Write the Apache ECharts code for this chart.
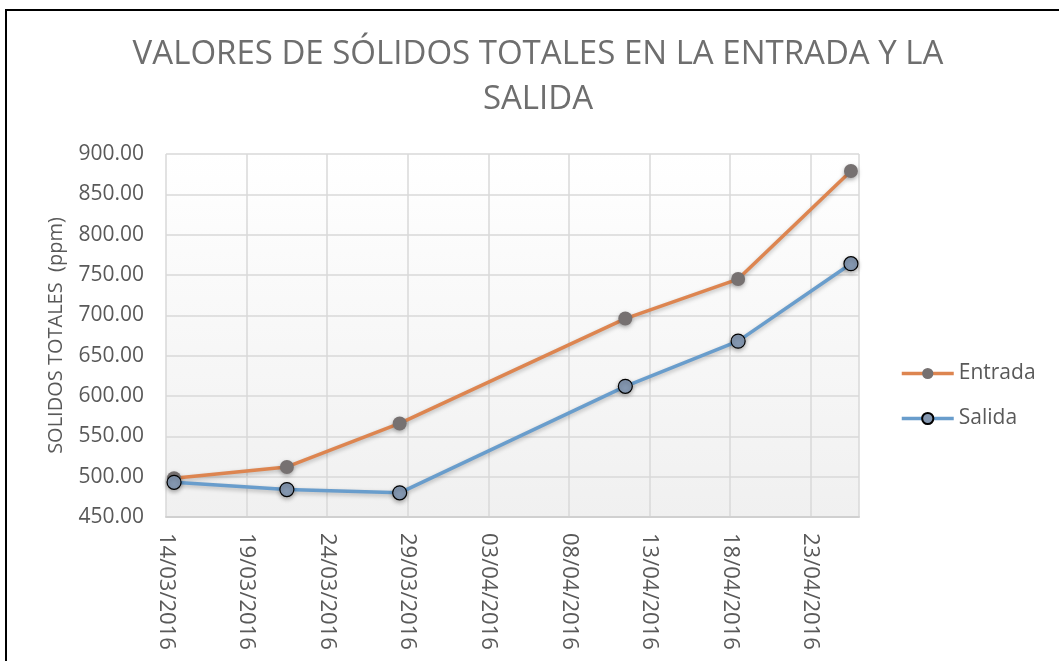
<!DOCTYPE html>
<html>
<head>
<meta charset="utf-8">
<script src="https://cdn.jsdelivr.net/npm/echarts@6/dist/echarts.min.js"></script>
<style>
  html, body { margin: 0; padding: 0; background: #fff; }
  #frame { position: absolute; left: 5px; top: 9px; right: -10px; bottom: -10px; border-left: 2px solid #000; border-top: 2px solid #000; }
  #chart { position: absolute; left: 0; top: 0; width: 1059px; height: 661px; }
</style>
</head>
<body>
<div id="frame"></div>
<div id="chart"></div>
<script>
  const startDate = '14/03/2016'
  const dates = ['14/03/2016', '21/03/2016', '28/03/2016', '11/04/2016', '18/04/2016', '25/04/2016']
  const entrada = [498, 512, 566, 696, 745, 879]
  const salida = [493, 484, 480, 612, 668, 764]
  const yTicks = [450, 500, 550, 600, 650, 700, 750, 800, 850, 900]

  const DAY = 86400000
  const parse = (s) => {
    const p = s.split('/')
    return Date.UTC(+p[2], +p[1] - 1, +p[0])
  }
  const t0 = parse(startDate)
  // Excel draws each point in the middle of its day
  const dayPos = (s) => (parse(s) - t0) / DAY + 0.5
  const fmtDay = (v) => {
    const d = new Date(t0 + v * DAY)
    const dd = String(d.getUTCDate()).padStart(2, '0')
    const mm = String(d.getUTCMonth() + 1).padStart(2, '0')
    return dd + '/' + mm + '/' + d.getUTCFullYear()
  }

  const chart = echarts.init(document.getElementById('chart'))
  const font = 'Open Sans'
  const grey = '#595959'

  chart.setOption({
    animation: false,
    title: {
      text: 'VALORES DE SÓLIDOS TOTALES EN LA ENTRADA Y LA\nSALIDA',
      left: 533,
      textAlign: 'center',
      top: 27,
      textStyle: {
        fontFamily: font,
        fontWeight: 'normal',
        fontSize: 33,
        lineHeight: 45,
        color: '#6e6e6e'
      }
    },
    legend: {
      orient: 'vertical',
      left: 895,
      top: 358,
      itemWidth: 52,
      itemHeight: 14,
      itemGap: 24,
      lineStyle: { width: 3.5 },
      textStyle: { fontFamily: font, fontSize: 21, color: grey }
    },
    grid: {
      left: 166,
      right: 200,
      top: 154,
      bottom: 144,
      show: true,
      borderWidth: 0,
      backgroundColor: new echarts.graphic.LinearGradient(0, 0, 0, 1, [
        { offset: 0, color: '#ffffff' },
        { offset: 1, color: '#f0f0f0' }
      ])
    },
    xAxis: {
      type: 'value',
      min: 0,
      max: 43,
      interval: 5,
      axisLine: { show: true, lineStyle: { color: '#d0d0d0', width: 2 } },
      axisTick: { show: false },
      splitLine: { show: true, lineStyle: { color: '#d9d9d9', width: 1.5 } },
      axisLabel: {
        rotate: -90,
        margin: 16,
        showMaxLabel: false,
        fontFamily: font,
        fontSize: 22,
        color: grey,
        formatter: (v) => (v % 5 === 0 ? fmtDay(v) : '')
      }
    },
    yAxis: {
      type: 'value',
      min: yTicks[0],
      max: yTicks[yTicks.length - 1],
      interval: yTicks[1] - yTicks[0],
      name: 'SOLIDOS TOTALES  (ppm)',
      nameLocation: 'middle',
      nameGap: 100,
      nameTextStyle: { fontFamily: font, fontSize: 20, color: grey },
      axisLine: { show: false },
      axisTick: { show: false },
      splitLine: { show: true, lineStyle: { color: '#d9d9d9', width: 1.5 } },
      axisLabel: {
        margin: 22,
        fontFamily: font,
        fontSize: 21,
        color: grey,
        formatter: (v) => v.toFixed(2)
      }
    },
    series: [
      {
        name: 'Entrada',
        type: 'line',
        data: dates.map((d, i) => [dayPos(d), entrada[i]]),
        symbol: 'circle',
        symbolSize: 14,
        lineStyle: {
          width: 3.5,
          color: '#dd8550',
          shadowBlur: 4,
          shadowOffsetY: 2,
          shadowColor: 'rgba(0,0,0,0.25)'
        },
        itemStyle: {
          color: '#767171',
          borderWidth: 0,
          shadowBlur: 4,
          shadowOffsetY: 2,
          shadowColor: 'rgba(0,0,0,0.3)'
        }
      },
      {
        name: 'Salida',
        type: 'line',
        data: dates.map((d, i) => [dayPos(d), salida[i]]),
        symbol: 'circle',
        symbolSize: 14,
        lineStyle: {
          width: 3.5,
          color: '#699dcc',
          shadowBlur: 4,
          shadowOffsetY: 2,
          shadowColor: 'rgba(0,0,0,0.25)'
        },
        itemStyle: {
          color: '#8497b0',
          borderColor: '#000',
          borderWidth: 1.2,
          shadowBlur: 4,
          shadowOffsetY: 2,
          shadowColor: 'rgba(0,0,0,0.3)'
        }
      }
    ]
  })
</script>
</body>
</html>
